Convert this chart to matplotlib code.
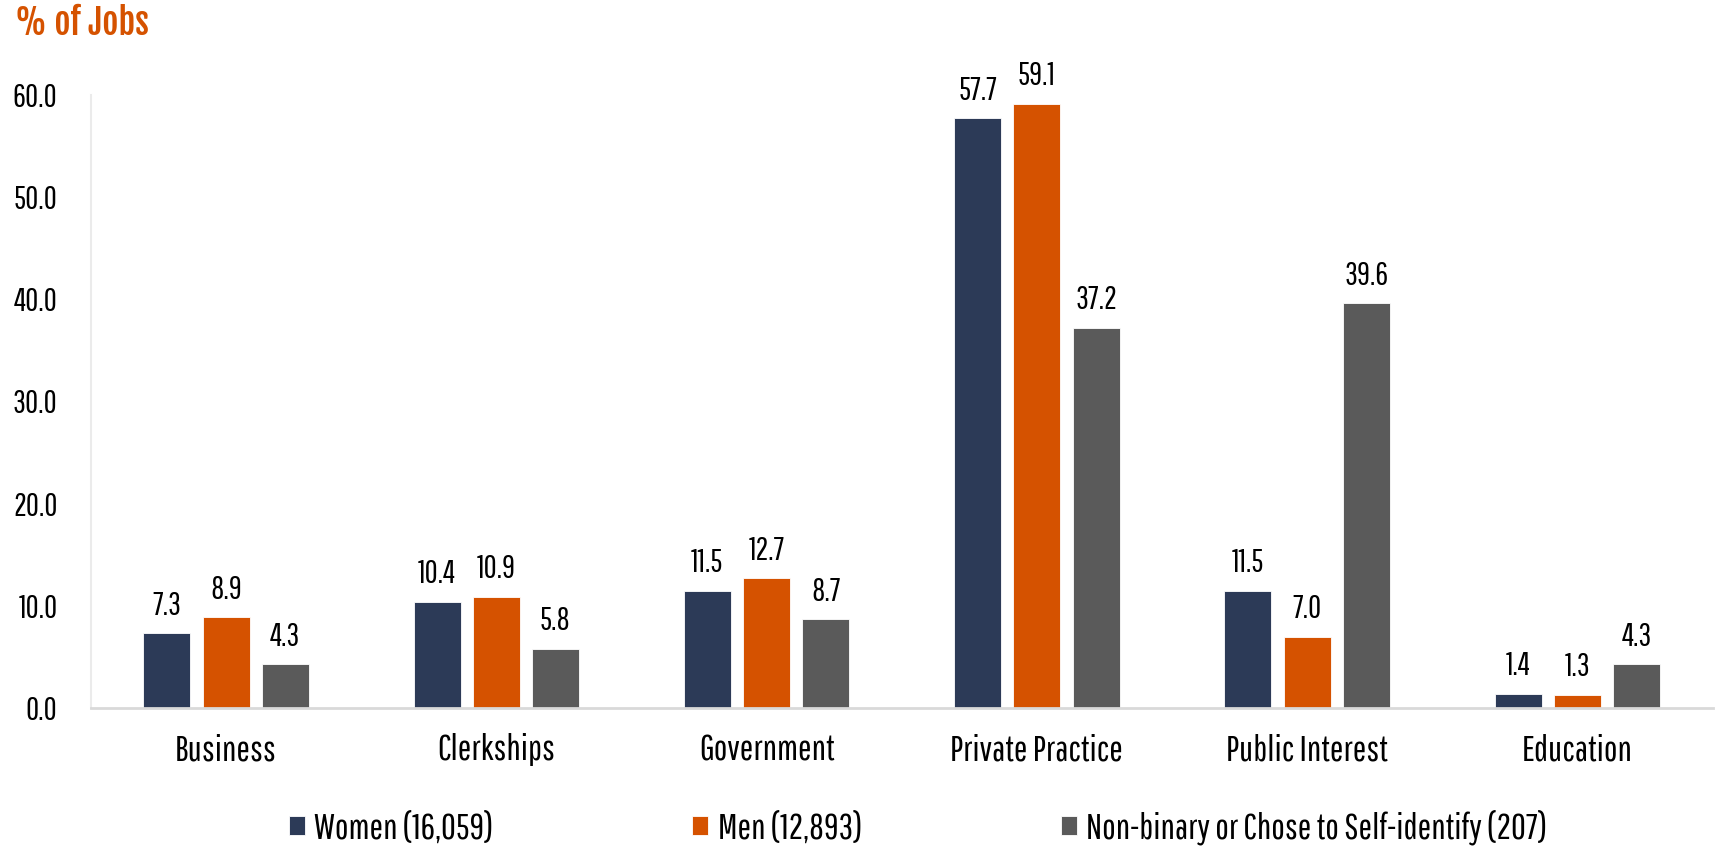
import numpy as np
import matplotlib.pyplot as plt

plt.rcParams['font.family'] = ['Pathway Gothic One', 'DejaVu Sans']

# Data
categories = ["Business", "Clerkships", "Government", "Private Practice", "Public Interest", "Education"]
women = [7.3, 10.4, 11.5, 57.7, 11.5, 1.4]
men = [8.9, 10.9, 12.7, 59.1, 7.0, 1.3]
nonbinary = [4.3, 5.8, 8.7, 37.2, 39.6, 4.3]
series_labels = ["Women (16,059)", "Men (12,893)", "Non-binary or Chose to Self-identify (207)"]
colors = ["#2C3A57", "#D55200", "#5A5A5A"]

x = np.arange(len(categories))
width = 0.174
step = 0.219

fig = plt.figure(figsize=(17.16, 8.46), dpi=100)
ax = fig.add_axes([0.053, 0.163, 0.945, 0.725])

for j, (vals, lab, c) in enumerate(zip([women, men, nonbinary], series_labels, colors)):
    bars = ax.bar(x + (j - 1) * step, vals, width, color=c, label=lab,
                  edgecolor="white", linewidth=0.6)
    for b, v in zip(bars, vals):
        ax.annotate("%.1f" % v, (b.get_x() + b.get_width() / 2, v),
                    xytext=(0, 9), textcoords="offset points",
                    ha="center", va="bottom", fontsize=23)

ax.set_xlim(-0.5, 5.5)
ax.set_ylim(0, 60)
ax.set_yticks(np.arange(0, 61, 10))
ax.set_yticklabels(["%.1f" % t for t in np.arange(0, 61, 10)], fontsize=23)
ax.set_xticks(x)
ax.set_xticklabels(categories, fontsize=26)
ax.tick_params(axis="both", length=0)
ax.tick_params(axis="x", pad=18)
ax.tick_params(axis="y", pad=24)

for s in ["top", "right"]:
    ax.spines[s].set_visible(False)
ax.spines["left"].set_color("#EBEBEB")
ax.spines["left"].set_linewidth(1.5)
ax.spines["bottom"].set_color("#D9D9D9")
ax.spines["bottom"].set_linewidth(2)

fig.text(0.009, 0.972, "% of Jobs", color="#D55200", fontsize=25,
         family=["Fjalla One", "DejaVu Sans"], ha="left", va="center")

fig.legend(loc="center", bbox_to_anchor=(0.535, 0.022), ncol=3, frameon=False,
           fontsize=26, handlelength=0.45, handleheight=0.45, handletextpad=0.25,
           columnspacing=5.5)

fig.savefig("out.png", dpi=100)
